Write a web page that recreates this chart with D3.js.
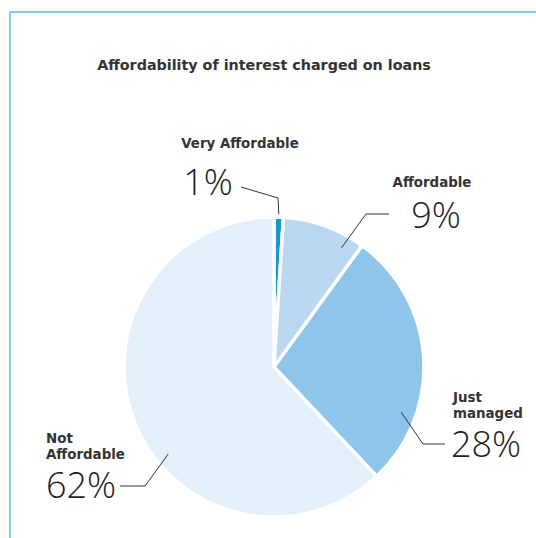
<!DOCTYPE html>
<html>
<head>
<meta charset="utf-8">
<script src="https://cdn.jsdelivr.net/npm/d3@7"></script>
<style>
  html, body { margin: 0; padding: 0; background: #fff; }
  svg { display: block; font-family: "Open Sans", "Noto Sans", sans-serif; }
  .bold { font-family: "DejaVu Sans", sans-serif; font-weight: 700; }
</style>
</head>
<body>
<svg id="chart" width="536" height="538"></svg>
<script>
// Survey answers, in drawing order (clockwise from 12 o'clock)
const categories = ["Very Affordable", "Affordable", "Just managed", "Not Affordable"];
const shares = [1, 9, 28, 62];
const labelLines = [["Very Affordable"], ["Affordable"], ["Just", "managed"], ["Not", "Affordable"]];
const sliceColors = ["#0c9ad8", "#b9d8f0", "#8ec5ea", "#e3f0f9"];
const title = "Affordability of interest charged on loans";

const svg = d3.select("#chart");
const W = 536, H = 538;

// Frame lines along the top and left edges
svg.append("line").attr("x1", 9.5).attr("y1", 12).attr("x2", W).attr("y2", 12)
  .attr("stroke", "#80cdee").attr("stroke-width", 2);
svg.append("line").attr("x1", 10).attr("y1", 11).attr("x2", 10).attr("y2", H)
  .attr("stroke", "#80cdee").attr("stroke-width", 2);

svg.append("text").attr("class", "bold").attr("x", 264).attr("y", 70).attr("text-anchor", "middle")
  .attr("font-size", 14.3).attr("fill", "#333")
  .text(title);

const cx = 274, cy = 367, R = 150;
const g = svg.append("g").attr("transform", `translate(${cx},${cy})`);

const pie = d3.pie().sort(null).value(d => d)(shares);
const arc = d3.arc().innerRadius(0).outerRadius(R);

g.selectAll("path.slice").data(pie).join("path")
  .attr("class", "slice")
  .attr("d", arc)
  .attr("fill", (d, i) => sliceColors[i])
  .attr("stroke", "#fff").attr("stroke-width", 3.5).attr("stroke-linejoin", "miter");

// Leader lines: start on the slice, bend, then run horizontally to the label
// t = position across the slice (0..1), r = start radius
const layout = [
  { t: 0.5, r: 153, elbow: [278, 198], end: [241, 187], label: [208, 195], anchor: "middle", nameY: 148, nameX: 240 },
  { t: 0.8, r: 137, elbow: [366, 214], end: [389, 214], label: [436, 228], anchor: "middle", nameY: 187, nameX: 432 },
  { t: 0.73, r: 135, elbow: [423, 444], end: [445, 444], label: [451, 457], anchor: "start", nameY: 402, nameX: 453 },
  { t: 0.42, r: 137, elbow: [145, 486], end: [120, 486], label: [46, 498], anchor: "start", nameY: 443, nameX: 46 }
];

pie.forEach((d, i) => {
  const L = layout[i];
  const a = d.startAngle + (d.endAngle - d.startAngle) * L.t;
  const sx = cx + L.r * Math.sin(a), sy = cy - L.r * Math.cos(a);
  svg.append("polyline")
    .attr("points", [[sx, sy], L.elbow, L.end].map(p => p.join(",")).join(" "))
    .attr("fill", "none").attr("stroke", "#333").attr("stroke-width", 1);

  const name = svg.append("text").attr("class", "bold")
    .attr("x", L.nameX).attr("y", L.nameY)
    .attr("text-anchor", L.anchor === "middle" ? "middle" : "start")
    .attr("font-size", 13.4).attr("fill", "#333");
  labelLines[i].forEach((ln, k) => {
    name.append("tspan").attr("x", L.nameX).attr("dy", k === 0 ? 0 : 15.5).text(ln);
  });

  svg.append("text")
    .attr("x", L.label[0]).attr("y", L.label[1])
    .attr("text-anchor", L.anchor)
    .attr("font-size", 36).attr("font-weight", 300).attr("fill", "#1f1f1f")
    .text(shares[i] + "%");
});
</script>
</body>
</html>
